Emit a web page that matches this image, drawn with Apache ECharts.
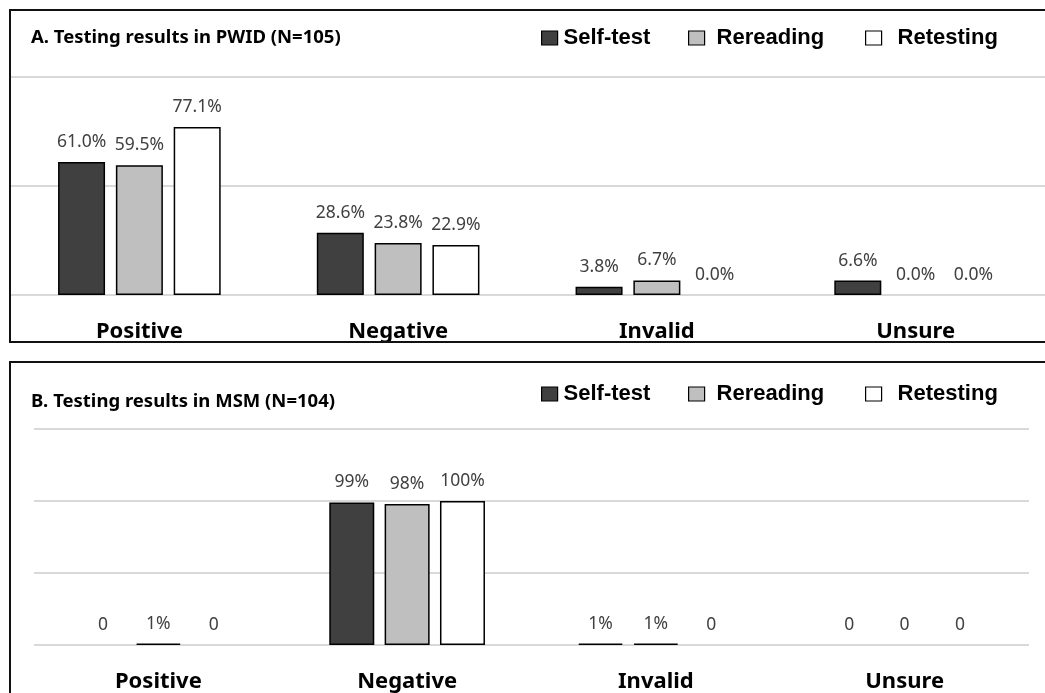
<!DOCTYPE html>
<html>
<head>
<meta charset="utf-8">
<script src="https://cdn.jsdelivr.net/npm/echarts@6/dist/echarts.min.js"></script>
<style>
html,body{margin:0;padding:0;background:#fff;}
#chart{width:1045px;height:693px;}
</style>
</head>
<body>
<div id="chart"></div>
<script>
// ---- data ----
const categories = ['Positive', 'Negative', 'Invalid', 'Unsure'];
const seriesNames = ['Self-test', 'Rereading', 'Retesting'];
const titleA = 'A. Testing results in PWID (N=105)';
const titleB = 'B. Testing results in MSM (N=104)';
// Panel A (PWID), percent
const pwidSelfTest  = [61.0, 28.6, 3.8, 6.6];
const pwidRereading = [59.5, 23.8, 6.7, 0.0];
const pwidRetesting = [77.1, 22.9, 0.0, 0.0];
// Panel B (MSM), percent
const msmSelfTest  = [0, 99, 1, 0];
const msmRereading = [1, 98, 1, 0];
const msmRetesting = [0, 100, 0, 0];

const colors = ['#404040', '#bfbfbf', '#ffffff'];
const FONT = 'Noto Sans';

const chart = echarts.init(document.getElementById('chart'), null, {renderer: 'canvas'});

function labelA(p) { return p.value.toFixed(1) + '%'; }
function labelB(p) { return p.value === 0 ? '0' : p.value + '%'; }

function makeSeries(name, data, idx, gridIdx, fmt, bw) {
  return {
    name: name, type: 'bar', xAxisIndex: gridIdx, yAxisIndex: gridIdx,
    data: data.map(v => v === 0 ? {value: v, itemStyle: {borderWidth: 0}} : v),
    barWidth: bw, barGap: '23%',
    itemStyle: {color: colors[idx], borderColor: '#000', borderWidth: 1.5},
    label: {show: true, position: 'top', distance: 11, formatter: fmt,
      fontFamily: FONT, fontSize: 17.5, color: '#404040'},
    emphasis: {disabled: true},
    animation: false
  };
}

const legendTextPad = [1, 7, 11];
const legendLefts = [541, 688, 865];
function makeLegends(top) {
  return seriesNames.map((n, i) => ({
    data: [n], left: legendLefts[i], top: top, padding: 0,
    icon: 'rect', itemWidth: 16, itemHeight: 14,
    itemStyle: {borderColor: '#000', borderWidth: 1.2},
    textStyle: {fontFamily: 'Liberation Sans', fontWeight: 'bold', fontSize: 22, color: '#000',
      padding: [0, 0, 0, legendTextPad[i]]},
    selectedMode: false
  }));
}

function yAxis(gridIdx, max) {
  return {
    type: 'value', gridIndex: gridIdx, min: 0, max: max, interval: 50,
    axisLabel: {show: false}, axisLine: {show: false}, axisTick: {show: false},
    splitLine: {show: true, lineStyle: {color: '#d9d9d9', width: 2}}
  };
}
function xAxis(gridIdx) {
  return {
    type: 'category', gridIndex: gridIdx, data: categories,
    axisLine: {show: false}, axisTick: {show: false},
    axisLabel: {fontFamily: FONT, fontWeight: 'bold', fontSize: 22, color: '#000', margin: 26}
  };
}

const option = {
  backgroundColor: '#fff',
  animation: false,
  title: [
    {text: titleA, left: 31, top: 28, padding: 0,
      textStyle: {fontFamily: FONT, fontWeight: 'bold', fontSize: 18.5, color: '#000'}},
    {text: titleB, left: 31, top: 392, padding: 0,
      textStyle: {fontFamily: FONT, fontWeight: 'bold', fontSize: 18.5, color: '#000'}}
  ],
  legend: makeLegends(27).concat(makeLegends(383)),
  grid: [
    {left: 10, width: 1042, top: 77, height: 218, containLabel: false},
    {left: 34, width: 995, top: 429, height: 218, containLabel: false}
  ],
  xAxis: [xAxis(0), xAxis(1)],
  yAxis: [yAxis(0, 100), yAxis(1, 150)],
  series: [
    makeSeries(seriesNames[0], pwidSelfTest, 0, 0, labelA, 47),
    makeSeries(seriesNames[1], pwidRereading, 1, 0, labelA, 47),
    makeSeries(seriesNames[2], pwidRetesting, 2, 0, labelA, 47),
    makeSeries(seriesNames[0], msmSelfTest, 0, 1, labelB, 45),
    makeSeries(seriesNames[1], msmRereading, 1, 1, labelB, 45),
    makeSeries(seriesNames[2], msmRetesting, 2, 1, labelB, 45)
  ],
  graphic: [
    {type: 'rect', silent: true, z: 100,
      shape: {x: 10, y: 10, width: 1050, height: 332},
      style: {fill: null, stroke: '#111', lineWidth: 2}},
    {type: 'rect', silent: true, z: 100,
      shape: {x: 10, y: 362, width: 1050, height: 400},
      style: {fill: null, stroke: '#111', lineWidth: 2}}
  ]
};
chart.setOption(option);
</script>
</body>
</html>
